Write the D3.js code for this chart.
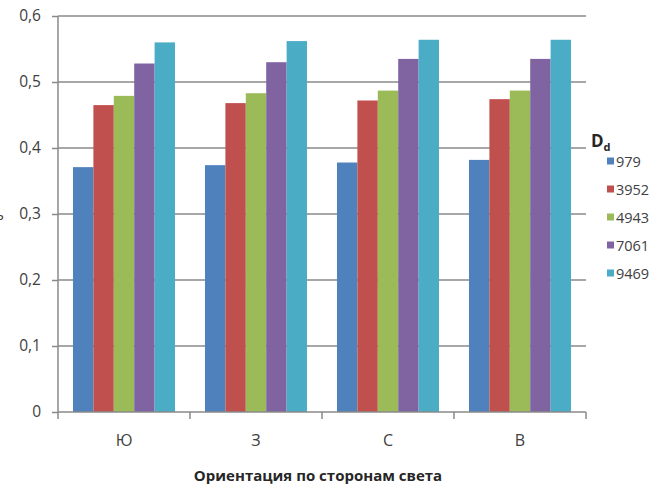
<!DOCTYPE html>
<html><head><meta charset="utf-8">
<script src="https://cdn.jsdelivr.net/npm/d3@7"></script>
<style>body{margin:0;background:#fff}svg{display:block}text{font-family:"Open Sans",sans-serif}</style>
</head><body><svg id="c" width="670" height="484"></svg>
<script>
const categories = ["Ю","З","С","В"];
const seriesNames = ["979","3952","4943","7061","9469"];
const s979  = [0.371,0.374,0.378,0.382];
const s3952 = [0.465,0.468,0.472,0.474];
const s4943 = [0.479,0.483,0.487,0.487];
const s7061 = [0.528,0.530,0.535,0.535];
const s9469 = [0.560,0.562,0.564,0.564];
const seriesValues = [s979,s3952,s4943,s7061,s9469];
const colors = ["#4F81BD","#C0504D","#9BBB59","#8064A2","#4BACC6"];
const yTicks = [0,0.1,0.2,0.3,0.4,0.5,0.6];
const xTitle = "Ориентация по сторонам света";

const svg = d3.select("#c");
const L = 58, R = 586, T = 16, B = 412;
const y = d3.scaleLinear().domain([0,0.6]).range([B,T]);
const x0 = d3.scaleBand().domain(categories).range([L,R]).padding(0);
const inner = x0.bandwidth()*0.773;
const x1 = d3.scaleBand().domain(seriesNames).range([0,inner]).padding(0);
const grid = "#8a8a8a";

svg.append("g").selectAll("line").data(yTicks.slice(1)).join("line")
  .attr("x1",L).attr("x2",R).attr("y1",d=>y(d)).attr("y2",d=>y(d))
  .attr("stroke",grid).attr("stroke-width",1.5);

const g = svg.append("g").selectAll("g").data(categories).join("g")
  .attr("transform",d=>`translate(${x0(d)+(x0.bandwidth()-inner)/2},0)`);
g.selectAll("rect").data((d,i)=>seriesNames.map((s,j)=>({s,v:seriesValues[j][i],j}))).join("rect")
  .attr("x",d=>x1(d.s)).attr("width",x1.bandwidth())
  .attr("y",d=>y(d.v)).attr("height",d=>B-y(d.v))
  .attr("fill",d=>colors[d.j]);

const ya = svg.append("g").attr("transform",`translate(${L},0)`)
  .call(d3.axisLeft(y).tickValues(yTicks).tickSize(6).tickPadding(11)
    .tickFormat(d=>d===0?"0":d3.format(".1f")(d).replace(".",",")));
ya.select(".domain").attr("stroke",grid).attr("stroke-width",1.5).attr("d",`M0,${T}V${B}`);
ya.selectAll(".tick line").attr("stroke",grid).attr("stroke-width",1.5);
ya.selectAll(".tick text").attr("font-size",15.5).attr("fill","#404040").attr("font-family","Open Sans");

const xa = svg.append("g").attr("transform",`translate(0,${B})`)
  .call(d3.axisBottom(x0).tickSize(0).tickPadding(23));
xa.select(".domain").attr("stroke",grid).attr("stroke-width",1.5).attr("d",`M${L},0H${R}`);
xa.selectAll(".tick text").attr("font-size",16).attr("fill","#404040").attr("font-family","Open Sans");
svg.append("g").selectAll("line").data([L,...categories.map(c=>x0(c)+x0.bandwidth())]).join("line")
  .attr("x1",d=>d).attr("x2",d=>d).attr("y1",B).attr("y2",B+7)
  .attr("stroke",grid).attr("stroke-width",1.5);

svg.append("text").attr("x",318).attr("y",481).attr("text-anchor","middle")
  .attr("font-size",15).attr("font-weight","bold").attr("fill","#262626").text(xTitle);

svg.append("text").attr("x",-5).attr("y",220).attr("font-size",15).attr("fill","#404040").text("ь");

const lg = svg.append("g");
const lt = lg.append("text").attr("x",591).attr("y",147).attr("font-size",17).attr("font-weight","bold").attr("fill","#262626");
lt.append("tspan").text("D");
lt.append("tspan").attr("font-size",11).attr("dy",4).text("d");
const items = lg.selectAll("g").data(seriesNames).join("g")
  .attr("transform",(d,i)=>`translate(607,${161+i*28})`);
items.append("rect").attr("x",0).attr("y",-3.5).attr("width",7).attr("height",7).attr("fill",(d,i)=>colors[i]);
items.append("text").attr("x",9).attr("y",5.5).attr("font-size",14.5).attr("fill","#404040").text(d=>d);
</script></body></html>
